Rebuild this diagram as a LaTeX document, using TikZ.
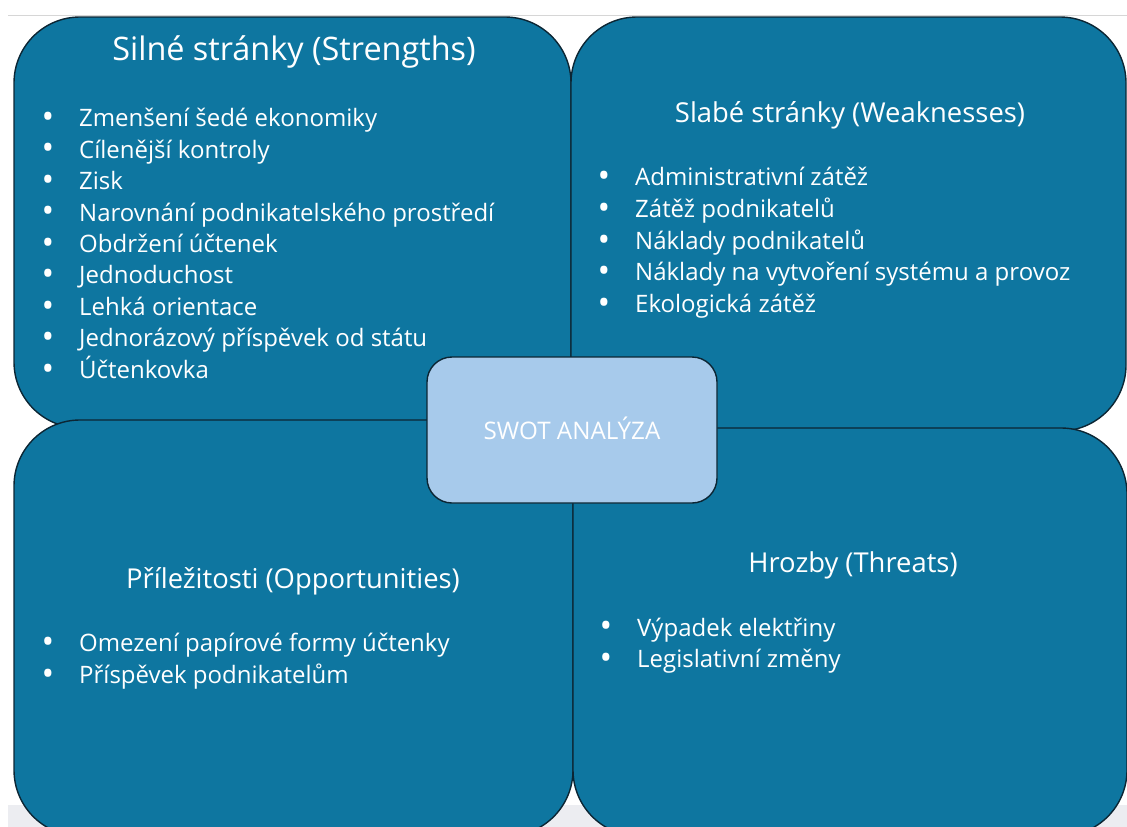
\documentclass[tikz,border=0pt]{standalone}
\usepackage{fontspec}
\usepackage{graphicx}
\setmainfont{Open Sans}
\definecolor{quadfill}{RGB}{14,118,160}
\definecolor{edge}{RGB}{12,38,52}
\definecolor{centerfill}{RGB}{167,202,235}
\definecolor{bandgray}{RGB}{236,237,241}
\definecolor{linegray}{RGB}{214,214,214}
\begin{document}
\begin{tikzpicture}[x=1pt,y=-1pt,
  quad/.style={draw=edge, line width=1.4pt, fill=quadfill, rounded corners=66pt, rectangle, inner sep=0pt},
  centerbox/.style={draw=edge, line width=1.4pt, fill=centerfill, rounded corners=25pt, rectangle, inner sep=0pt},
  bigtitle/.style={text=white, anchor=base, inner sep=0pt, font=\fontsize{32.4}{38}\selectfont},
  title/.style={text=white, anchor=base, inner sep=0pt, font=\fontsize{27.4}{32}\selectfont},
  item/.style={text=white, anchor=base west, inner sep=0pt, font=\fontsize{24}{29}\selectfont},
  swot/.style={text=white, anchor=base, inner sep=0pt, font=\fontsize{24.2}{28}\selectfont}]
\useasboundingbox (0,0) rectangle (1127,827);
\clip (0,0) rectangle (1127,827);
\fill[bandgray] (8,805) rectangle (1127,827);
\draw[linegray, line width=1pt] (8,15) -- (1127,15);
% quadrants
\node[quad, minimum width=557pt, minimum height=411pt] (S) at (292.5,222.5) {};
\node[quad, minimum width=555pt, minimum height=414pt] (W) at (848.5,224) {};
\node[quad, minimum width=559pt, minimum height=416pt] (O) at (293.5,628) {};
\node[quad, minimum width=554pt, minimum height=408pt] (T) at (850,632) {};
\node[centerbox, minimum width=290pt, minimum height=146pt] (C) at (572,430) {};
\node[swot] (Ctext) at (572,439) {SWOT ANALÝZA};
% titles
\node[bigtitle] (St) at (294,60) {Silné stránky (Strengths)};
\node[title] (Wt) at (850,122.7) {Slabé stránky (Weaknesses)};
\node[title] (Ot) at (293,588.3) {Příležitosti (Opportunities)};
\node[title] (Tt) at (853,572.7) {Hrozby (Threats)};
\newcommand{\bul}{\makebox[0pt][r]{\raisebox{-1.8pt}{\scalebox{1.4}{•}}\hspace{25pt}}}
% S items
\foreach \t [count=\i] in {Zmenšení šedé ekonomiky, Cílenější kontroly, Zisk, Narovnání podnikatelského prostředí, Obdržení účtenek, Jednoduchost, Lehká orientace, Jednorázový příspěvek od státu, Účtenkovka}
  \node[item] (s\i) at (79,126.7+31.45*\i-31.45) {\bul\t};
% W items
\foreach \t [count=\i] in {Administrativní zátěž, Zátěž podnikatelů, Náklady podnikatelů, Náklady na vytvoření systému a provoz, Ekologická zátěž}
  \node[item] (w\i) at (635,185.7+31.75*\i-31.75) {\bul\t};
% O items
\foreach \t [count=\i] in {Omezení papírové formy účtenky, Příspěvek podnikatelům}
  \node[item] (o\i) at (79,651.7+31.6*\i-31.6) {\bul\t};
% T items
\foreach \t [count=\i] in {Výpadek elektřiny, Legislativní změny}
  \node[item] (t\i) at (637,636+31.7*\i-31.7) {\bul\t};
\end{tikzpicture}
\end{document}
